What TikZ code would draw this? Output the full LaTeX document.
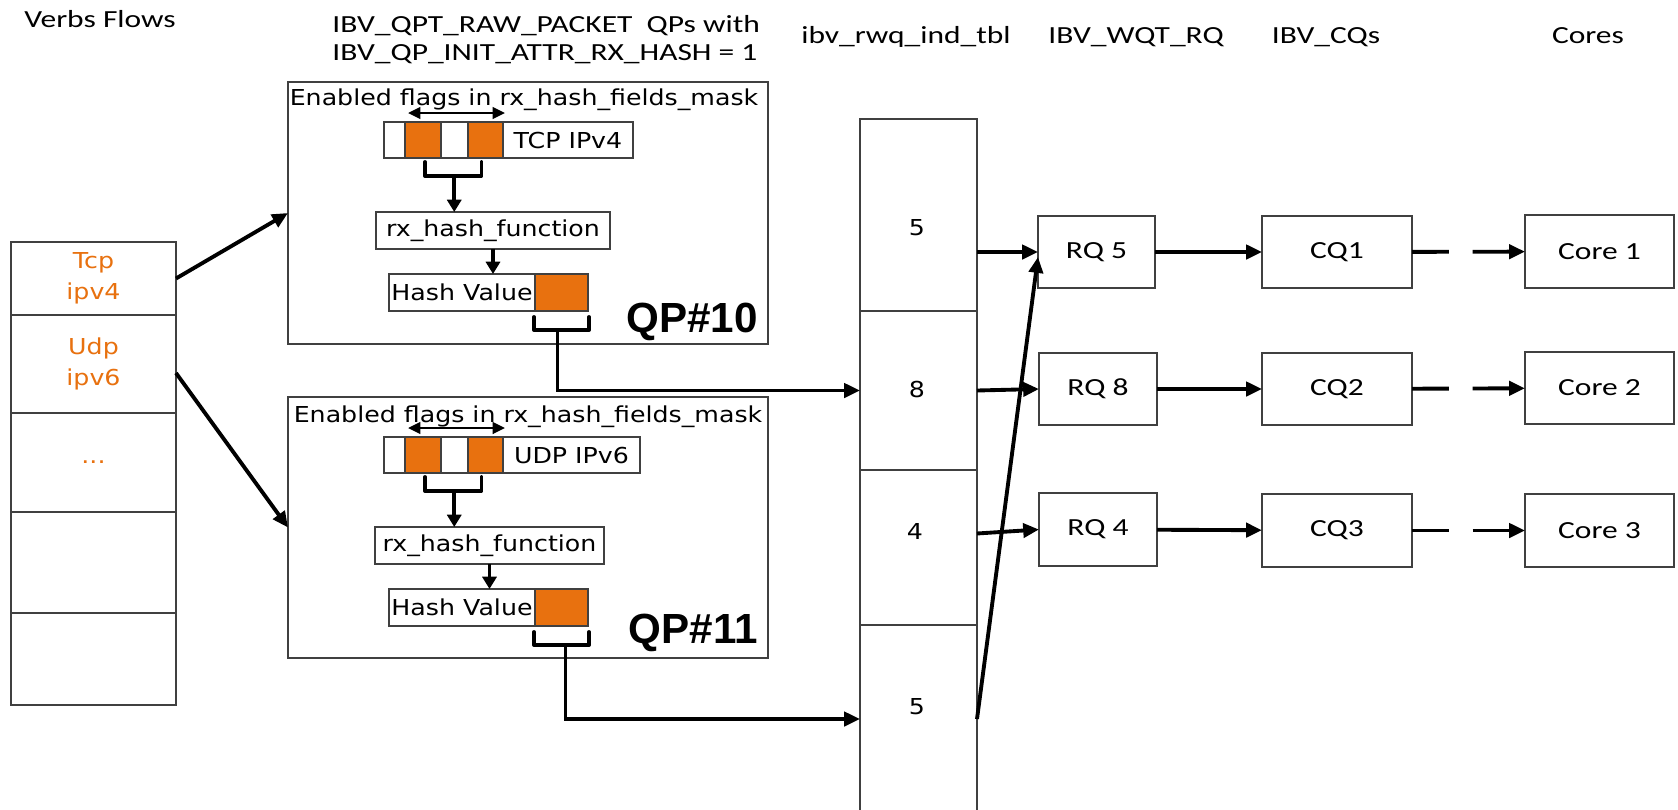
\documentclass[tikz,border=0pt]{standalone}
\usepackage{fontspec}
\setmainfont{DejaVu Sans}
\newfontfamily\hdfont[FakeStretch=1.28]{Carlito}
\newfontfamily\bdfont[FakeStretch=1.15]{DejaVu Sans}
\newfontfamily\qpfont{Liberation Sans}
\usepackage{tikz}
\usetikzlibrary{positioning,arrows.meta,calc}
\definecolor{hashorange}{HTML}{E8710F}
\def\pxu{0.02cm}

\begin{document}
\begin{tikzpicture}[x=0.02cm, y=-0.02cm,
  hdtxt/.style={font=\hdfont\fontsize{14}{17}\selectfont, inner sep=0pt},
  bodytxt/.style={font=\bdfont\fontsize{12.5}{17.5}\selectfont},
  qptxt/.style={font=\qpfont\bfseries\fontsize{24}{28}\selectfont, inner sep=0pt},
  cellbox/.style={draw=black!75, line width=0.7pt, fill=white, inner sep=0pt,
                  outer sep=0pt, align=center},
  flagcell/.style={cellbox, fill=hashorange},
  sz/.style 2 args={minimum width=#1*\pxu, minimum height=#2*\pxu},
  arr/.style={-{Triangle[length=9pt,width=8pt]}, line width=2.2pt},
  inarr/.style={-{Triangle[length=7pt,width=8pt]}, line width=2pt},
  dblarr/.style={{Triangle[length=7pt,width=6.5pt]}-{Triangle[length=7pt,width=6.5pt]}, line width=1.6pt},
  bracket/.style={line width=2.2pt, line join=round, line cap=round},
  dasharr/.style={arr, dash pattern=on 21pt off 13.5pt on 80pt},
]
\useasboundingbox (0,0) rectangle (1678,809);
\clip (0,0) rectangle (1678,809);

\node[hdtxt, anchor=base] (hflows) at (100,27) {Verbs Flows};
\node[hdtxt, anchor=base west] (hqp) at (332,32) {IBV\_QPT\_RAW\_PACKET\ \ QPs with};
\node[hdtxt, anchor=base west] (hqpb) at (332,60) {IBV\_QP\_INIT\_ATTR\_RX\_HASH = 1};
\node[hdtxt, anchor=base] (htbl) at (906,43) {ibv\_rwq\_ind\_tbl};
\node[hdtxt, anchor=base] (hrq) at (1136,43) {IBV\_WQT\_RQ};
\node[hdtxt, anchor=base] (hcq) at (1326,43) {IBV\_CQs};
\node[hdtxt, anchor=base] (hcore) at (1588,43) {Cores};

\node[cellbox, bodytxt, sz={165}{73}, text=hashorange] (fl1) at (93.5,278.5) {Tcp\\ipv4};
\node[cellbox, bodytxt, sz={165}{98}, text=hashorange] (fl2) at (93.5,364) {Udp\\ipv6};
\node[cellbox, bodytxt, sz={165}{99}, text=hashorange] (fl3) at (93.5,462.5) {...};
\node[cellbox, sz={165}{101}] (fl4) at (93.5,562.5) {};
\node[cellbox, sz={165}{92}] (fl5) at (93.5,659) {};

\node[cellbox, sz={480}{262}] (qp10) at (528,213) {};
\node[bodytxt, anchor=base, inner sep=0pt] (en10) at (524,105) {Enabled flags in rx\_hash\_fields\_mask};
\node[cellbox, sz={21}{36}] (f10a) at (394.5,140) {};
\node[flagcell, sz={36}{36}] (f10b) at (423,140) {};
\node[cellbox, sz={27}{36}] (f10c) at (454.5,140) {};
\node[flagcell, sz={35}{36}] (f10d) at (485.5,140) {};
\node[cellbox, bodytxt, sz={130}{36}] (f10e) at (568,140) {TCP IPv4};
\node[cellbox, bodytxt, sz={234}{37}] (fn10) at (493,230.5) {rx\_hash\_function};
\node[cellbox, bodytxt, sz={146}{37}] (hv10) at (462,292.5) {Hash Value};
\node[flagcell, sz={53}{37}] (hvo10) at (561.5,292.5) {};
\node[qptxt, anchor=base east] (qp10lbl) at (758,332) {QP\#10};

\node[cellbox, sz={480}{261}] (qp11) at (528,527.5) {};
\node[bodytxt, anchor=base, inner sep=0pt] (en11) at (528,422) {Enabled flags in rx\_hash\_fields\_mask};
\node[cellbox, sz={21}{36}] (f11a) at (394.5,455) {};
\node[flagcell, sz={36}{36}] (f11b) at (423,455) {};
\node[cellbox, sz={27}{36}] (f11c) at (454.5,455) {};
\node[flagcell, sz={35}{36}] (f11d) at (485.5,455) {};
\node[cellbox, bodytxt, sz={137}{36}] (f11e) at (571.5,455) {UDP IPv6};
\node[cellbox, bodytxt, sz={229}{37}] (fn11) at (489.5,545.5) {rx\_hash\_function};
\node[cellbox, bodytxt, sz={146}{37}] (hv11) at (462,607.5) {Hash Value};
\node[flagcell, sz={53}{37}] (hvo11) at (561.5,607.5) {};
\node[qptxt, anchor=base east] (qp11lbl) at (758,643) {QP\#11};

\node[cellbox, sz={117}{192}] (c1) at (918.5,215) {};
\node[cellbox, sz={117}{159}] (c2) at (918.5,390.5) {};
\node[cellbox, sz={117}{155}] (c3) at (918.5,547.5) {};
\node[cellbox, sz={117}{204}] (c4) at (918.5,727) {};
\node[bodytxt] (n1) at (917,228) {5};
\node[bodytxt] (n2) at (917,389) {8};
\node[bodytxt] (n3) at (915,531) {4};
\node[bodytxt] (n4) at (917,707) {5};

\node[cellbox, hdtxt, sz={117}{72}] (rq5) at (1096.5,252) {RQ 5};
\node[cellbox, hdtxt, sz={118}{72}] (rq8) at (1098,389) {RQ 8};
\node[cellbox, hdtxt, sz={118}{73}] (rq4) at (1098,529.5) {RQ 4};
\node[cellbox, hdtxt, sz={150}{72}] (cq1) at (1337,252) {CQ1};
\node[cellbox, hdtxt, sz={150}{72}] (cq2) at (1337,389) {CQ2};
\node[cellbox, hdtxt, sz={150}{73}] (cq3) at (1337,530.5) {CQ3};
\node[cellbox, hdtxt, sz={149}{73}] (core1) at (1599.5,251.5) {Core 1};
\node[cellbox, hdtxt, sz={149}{72}] (core2) at (1599.5,388) {Core 2};
\node[cellbox, hdtxt, sz={149}{73}] (core3) at (1599.5,530.5) {Core 3};

\coordinate (s10) at ($(f10b.south)!0.5!(f10d.south)+(0,18)$);
\coordinate (s11) at ($(f11b.south)!0.5!(f11d.south)+(0,18)$);

\draw[arr] (fl1.east) -- (qp10.west);
\draw[arr] ($(fl2.east)+(0,9)$) -- (qp11.west);

\draw[dblarr] ($(f10b.north west)+(3,-9)$) -- ($(f10d.north east)+(2,-9)$);
\draw[bracket] ($(f10b.south)+(2,4)$) -- ++(0,14) -| ($(f10d.south)+(-4,4)$);
\draw[inarr] (s10) -- (s10 |- fn10.north);
\draw[inarr] (fn10.south) -- (fn10.south |- hv10.north);
\draw[bracket] ($(hvo10.south west)+(-1,6)$) -- ++(0,13) -| ($(hvo10.south east)+(1,6)$);
\draw[arr] ($(hvo10.south)+(-4,19)$) |- (c2.west);

\draw[dblarr] ($(f11b.north west)+(3,-9)$) -- ($(f11d.north east)+(2,-9)$);
\draw[bracket] ($(f11b.south)+(2,4)$) -- ++(0,14) -| ($(f11d.south)+(-4,4)$);
\draw[inarr] (s11) -- (s11 |- fn11.north);
\draw[inarr] (fn11.south) -- (fn11.south |- hv11.north);
\draw[bracket] ($(hvo11.south west)+(-1,6)$) -- ++(0,13) -| ($(hvo11.south east)+(1,6)$);
\draw[arr] ($(hvo11.south)+(4,19)$) |- ($(c4.west)+(0,-8)$);

\draw[arr] (c1.east |- rq5.west) -- (rq5.west);
\draw[arr] (c2.east) -- (rq8.west);
\draw[arr] ($(c3.east)+(0,-14)$) -- (rq4.west);
\draw[arr] ($(c4.east)+(0,-8)$) -- ($(rq5.west)+(0,5)$);

\draw[arr] (rq5) -- (cq1);
\draw[arr] (rq8) -- (cq2);
\draw[arr] (rq4) -- (cq3);
\draw[dasharr] (cq1) -- (core1);
\draw[dasharr] (cq2) -- (core2);
\draw[dasharr] (cq3) -- (core3);
\end{tikzpicture}
\end{document}
